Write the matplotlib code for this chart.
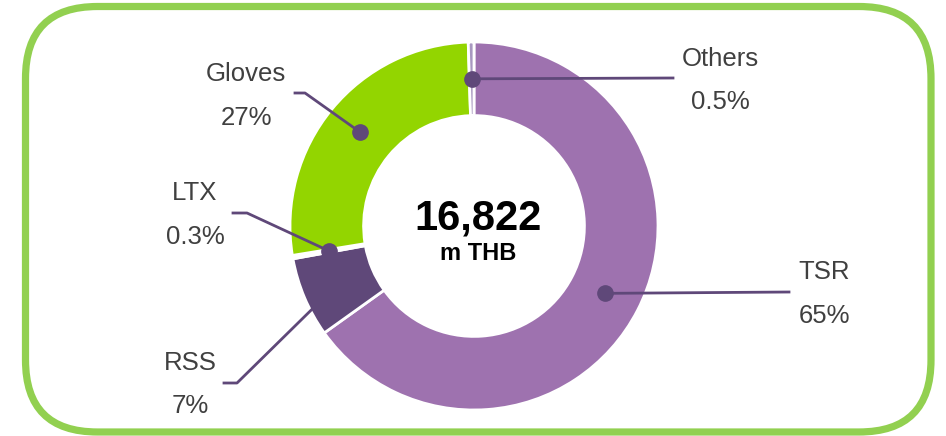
import numpy as np
import matplotlib.pyplot as plt
from matplotlib.patches import FancyBboxPatch

# data
segments = ['TSR', 'RSS', 'LTX', 'Gloves', 'Others']
shares = [65, 7, 0.3, 27, 0.5]
share_labels = ['65%', '7%', '0.3%', '27%', '0.5%']
colors = ['#9E72AF', '#5F4879', '#FFFFFF', '#93D500', '#A898C0']
total_value = '16,822'
total_unit = 'm THB'

W, H = 946, 436
fig = plt.figure(figsize=(W / 100, H / 100), dpi=100)
ax = fig.add_axes([0, 0, 1, 1])

cx, cy, r_out = 474, H - 226, 184
ring = 0.4
wedges, _ = ax.pie(shares, colors=colors, startangle=90, counterclock=False,
                   center=(cx, cy), radius=r_out,
                   wedgeprops=dict(width=r_out * ring, edgecolor='white', linewidth=2))
ax.set_xlim(0, W)
ax.set_ylim(0, H)
ax.set_aspect('auto')
ax.axis('off')

# rounded green frame
frame = FancyBboxPatch((25.5, H - 432), 905.5, 425.5,
                       boxstyle='round,pad=0,rounding_size=72',
                       fill=False, edgecolor='#92D050', linewidth=5.2)
ax.add_patch(frame)

# labels: (elbow, end of line, label x, name baseline, pct baseline) in pixel coords
layout = {
    'TSR':    ((789, 292), (789, 292), 824, 279, 323),
    'RSS':    ((237, 383), (224, 383), 190, 370, 413),
    'LTX':    ((247, 213), (233, 213), 195, 200, 244),
    'Gloves': ((305, 93), (295, 93), 246, 81, 125),
    'Others': ((673, 78), (673, 78), 720, 66, 109),
}
line_col = '#5F4879'
txt_col = '#404040'
r_dot = r_out * (1 - ring / 2)
for w, name, pct in zip(wedges, segments, share_labels):
    ang = np.deg2rad((w.theta1 + w.theta2) / 2)
    dx, dy = cx + r_dot * np.cos(ang), cy + r_dot * np.sin(ang)
    (ex, ey), (lx, ly), tx, b1, b2 = layout[name]
    ax.plot([dx, ex, lx], [dy, H - ey, H - ly], color=line_col, lw=2, zorder=3)
    ax.plot(dx, dy, 'o', color=line_col, ms=11, zorder=4)
    ax.text(tx, H - b1, name, ha='center', va='baseline', fontsize=18.5,
            family='Liberation Sans', color=txt_col)
    ax.text(tx, H - b2, pct, ha='center', va='baseline', fontsize=18.5,
            family='Liberation Sans', color=txt_col)

ax.text(478, H - 230, total_value, ha='center', va='baseline', fontsize=30,
        fontweight='bold', family='Liberation Sans', color='black')
ax.text(478, H - 260, total_unit, ha='center', va='baseline', fontsize=17,
        fontweight='bold', family='Liberation Sans', color='black')

fig.savefig('out.png', dpi=100)
